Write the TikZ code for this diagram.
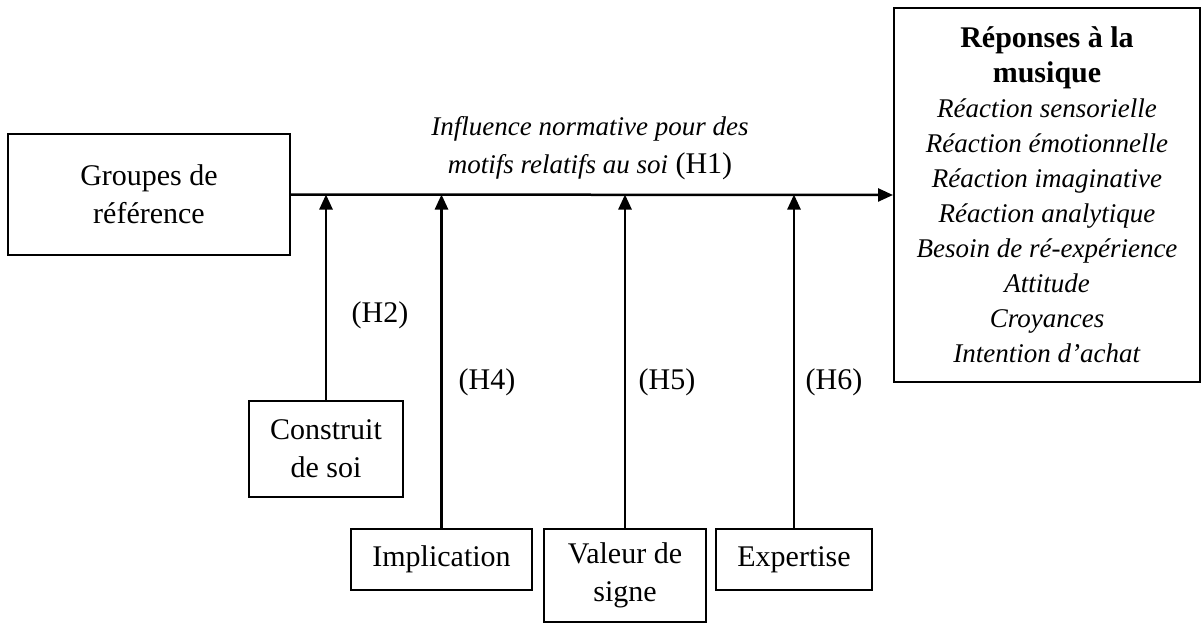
\documentclass[tikz,border=0pt]{standalone}
\usepackage{fontspec}
\setmainfont{Liberation Serif}
\usetikzlibrary{arrows.meta}
\newcommand{\itl}[1]{{\fontsize{27}{35}\selectfont\textit{#1}}}
\tikzset{
  box/.style={draw, line width=2pt, align=center, inner sep=0pt, font=\fontsize{30}{38}\selectfont},
  lbl/.style={align=center, inner sep=0pt, font=\fontsize{30}{38}\selectfont},
  arr/.style={line width=2.5pt, -{Triangle[length=15pt,width=13pt]}}
}
\begin{document}
\begin{tikzpicture}[x=1pt,y=-1pt]
\useasboundingbox (0,0) rectangle (1204,623);
% main boxes
\node[box, minimum width=282pt, minimum height=121pt] (gr) at (149,194.5) {Groupes de\\référence};
\node[box, minimum width=306pt, minimum height=374pt, font=\fontsize{30}{35}\selectfont] (rep) at (1047,195)
  {\textbf{Réponses à la}\\\textbf{musique}\\\itl{Réaction sensorielle}\\\itl{Réaction émotionnelle}\\\itl{Réaction imaginative}\\\itl{Réaction analytique}\\\itl{Besoin de ré-expérience}\\\itl{Attitude}\\\itl{Croyances}\\\itl{Intention d’achat}};
% moderators
\node[box, minimum width=154pt, minimum height=96pt] (cs) at (326,449) {Construit\\de soi};
\node[box, minimum width=181pt, minimum height=61pt] (im) at (441.5,559.5) {Implication};
\node[box, minimum width=162pt, minimum height=93pt] (vs) at (625,575.5) {Valeur de\\signe};
\node[box, minimum width=156pt, minimum height=61pt] (ex) at (794,559.5) {Expertise};
% main arrow
\draw[arr] (gr.east) -- (rep.west);
\node[lbl] (h1) at (590,148) {\itl{Influence normative pour des}\\\itl{motifs relatifs au soi} (H1)};
% moderating arrows
\draw[arr] (cs.north) -- (cs.north |- gr.east);
\draw[arr] (im.north) -- (im.north |- gr.east);
\draw[arr] (vs.north) -- (vs.north |- gr.east);
\draw[arr] (ex.north) -- (ex.north |- gr.east);
% labels
\node[lbl] (h2) at (380,315) {(H2)};
\node[lbl] (h4) at (487,382) {(H4)};
\node[lbl] (h5) at (667,382) {(H5)};
\node[lbl] (h6) at (834,382) {(H6)};
\end{tikzpicture}
\end{document}
